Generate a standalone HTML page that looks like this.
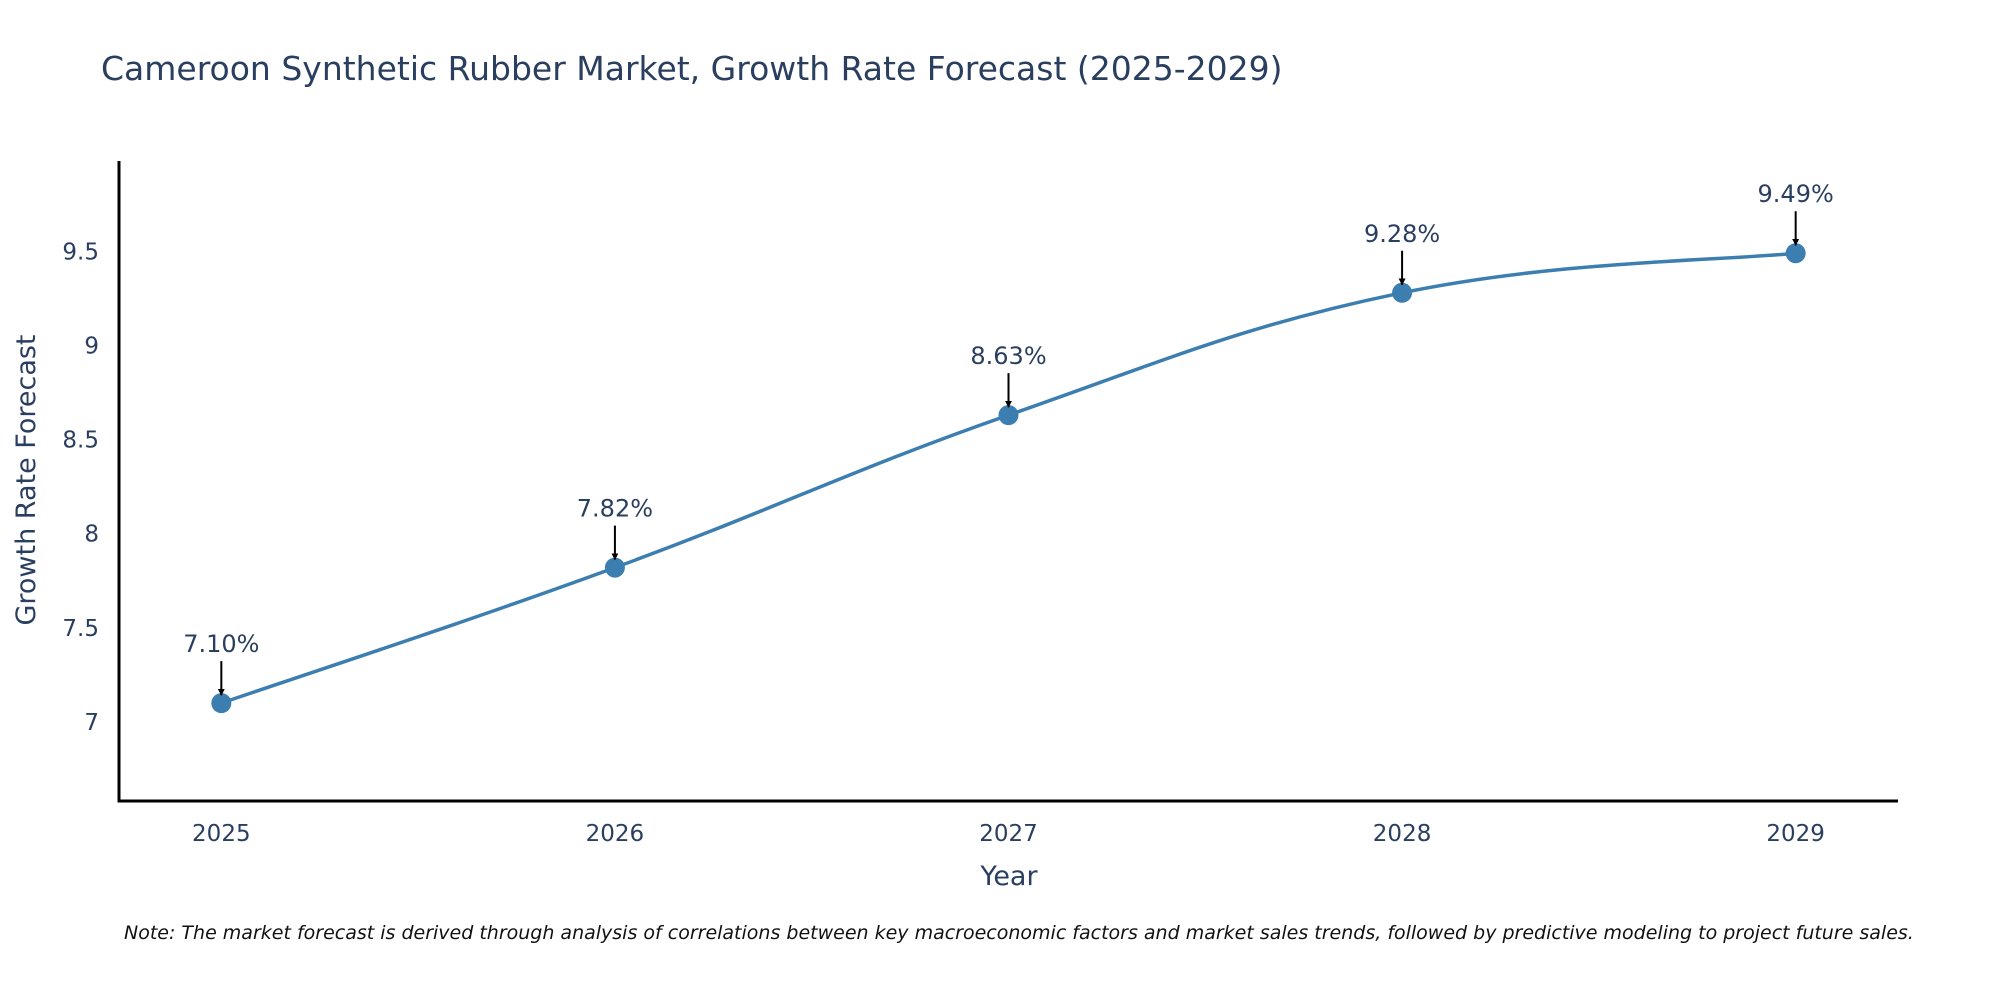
<!DOCTYPE html>
<html><head><meta charset="utf-8">
<style>
html,body{margin:0;padding:0;background:#fff;}
svg{display:block;font-family:"DejaVu Sans","Liberation Sans",sans-serif;}
</style></head>
<body>
<svg id="chart" width="2000" height="1000" viewBox="0 0 2000 1000">
<text x="101" y="80" font-size="33" fill="#2a3f5f">Cameroon Synthetic Rubber Market, Growth Rate Forecast (2025-2029)</text>
<g id="plot"></g>
<text x="1009" y="885" font-size="27" fill="#2a3f5f" text-anchor="middle">Year</text>
<text transform="translate(35,480) rotate(-90)" font-size="27" fill="#2a3f5f" text-anchor="middle">Growth Rate Forecast</text>
<text x="124" y="939" font-size="19" font-style="italic" fill="#111">Note: The market forecast is derived through analysis of correlations between key macroeconomic factors and market sales trends, followed by predictive modeling to project future sales.</text>
</svg>
<script>
const years = [2025, 2026, 2027, 2028, 2029];
const values = [7.10, 7.82, 8.63, 9.28, 9.49];
const labels = ["7.10%", "7.82%", "8.63%", "9.28%", "9.49%"];
const yTicks = [7, 7.5, 8, 8.5, 9, 9.5];
const yTickLabels = ["7", "7.5", "8", "8.5", "9", "9.5"];

const L=119,R=1898,T=161,B=801;
const xMin=2024.74,xMax=2029.26,yMin=6.58,yMax=9.98;
const xs=v=>L+(v-xMin)/(xMax-xMin)*(R-L);
const ys=v=>B-(v-yMin)/(yMax-yMin)*(B-T);
const NS="http://www.w3.org/2000/svg";
const g=document.getElementById('plot');
function mk(t,a){const e=document.createElementNS(NS,t);for(const k in a)e.setAttribute(k,a[k]);g.appendChild(e);return e;}

const defs=mk('defs',{});
defs.innerHTML='<marker id="ah" viewBox="0 0 10 10" refX="9" refY="5" markerWidth="7" markerHeight="7" markerUnits="userSpaceOnUse" orient="auto"><path d="M0,0 L10,5 L0,10 z" fill="#000"/></marker>';

yTicks.forEach((t,i)=>{
  const e=mk('text',{x:L-20,y:ys(t)+8,'font-size':23,fill:'#2a3f5f','text-anchor':'end'});
  e.textContent=yTickLabels[i];
  
  
});
years.forEach(yr=>{
  const e=mk('text',{x:xs(yr),y:B+40,'font-size':23,fill:'#2a3f5f','text-anchor':'middle'});
  e.textContent=String(yr);
  
  
});
const ax=mk('path',{d:`M${L},${T} L${L},${B} L${R},${B}`,stroke:'#000','stroke-width':3,fill:'none'});



const P=years.map((y,i)=>[xs(y),ys(values[i])]);
let d=`M${P[0][0]},${P[0][1]}`;const s=0.2;
for(let i=0;i<P.length-1;i++){
  const p0=P[Math.max(0,i-1)],p1=P[i],p2=P[i+1],p3=P[Math.min(P.length-1,i+2)];
  const c1=[p1[0]+(p2[0]-p0[0])*s,p1[1]+(p2[1]-p0[1])*s];
  const c2=[p2[0]-(p3[0]-p1[0])*s,p2[1]-(p3[1]-p1[1])*s];
  d+=` C${c1[0]},${c1[1]} ${c2[0]},${c2[1]} ${p2[0]},${p2[1]}`;
}
const line=mk('path',{d:d,stroke:'#3d7eb0','stroke-width':3.5,fill:'none'});



P.forEach((p,i)=>{
  const c=mk('circle',{cx:p[0],cy:p[1],r:10,fill:'#3d7eb0'});
  
  
  const a=mk('line',{x1:p[0],y1:p[1]-42,x2:p[0],y2:p[1]-8,stroke:'#000','stroke-width':2,'marker-end':'url(#ah)'});
  
  
  const t=mk('text',{x:p[0],y:p[1]-51,'font-size':24,fill:'#2a3f5f','text-anchor':'middle'});
  t.textContent=labels[i];
  
  
});
</script>
</body></html>
